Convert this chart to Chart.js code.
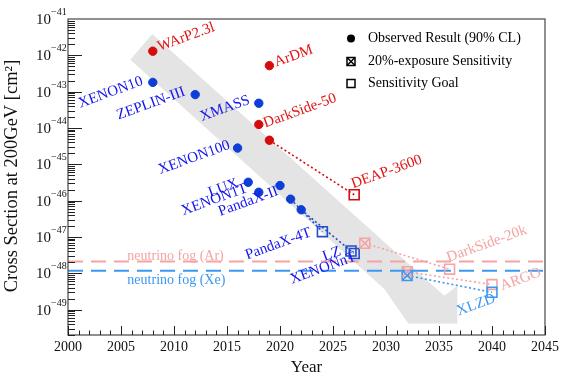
<!DOCTYPE html>
<html lang="en">
<head>
<meta charset="UTF-8">
<title>Cross Section vs Year</title>
<script src="https://cdn.jsdelivr.net/npm/chart.js@4.4.1/dist/chart.umd.min.js"></script>
<style>
  body { margin: 0; background: #fff; }
  #wrap { width: 565px; height: 383px; }
</style>
</head>
<body>
<div id="wrap"><canvas id="xsec" width="565" height="383"></canvas></div>
<script>
// observed results (90% CL)
const redObsYears = [2008, 2019, 2018, 2019];
const redObsValues = [1.3e-42, 5.2e-43, 1.25e-44, 4.6e-45];
const blueObsYears = [2008, 2012, 2018, 2016, 2017, 2018, 2020, 2021, 2022];
const blueObsValues = [1.8e-43, 8.3e-44, 4.8e-44, 2.8e-45, 3.2e-46, 1.7e-46, 2.6e-46, 1.1e-46, 5.6e-47];

// sensitivity goals
const goalNames = ['DEAP-3600', 'PandaX-4T', 'LZ', 'XENONnT', 'DarkSide-20k', 'ARGO', 'XLZD'];
const goalYears = [2027, 2024, 2026.7, 2027, 2036, 2040, 2040];
const goalValues = [1.45e-46, 1.4e-47, 4.1e-48, 3.5e-48, 1.3e-48, 4.9e-49, 3.0e-49];

// 20%-exposure sensitivity
const expNames = ['DarkSide-20k', 'ARGO', 'XLZD'];
const expYears = [2028, 2032, 2032];
const expValues = [6.7e-48, 1.1e-48, 8.7e-49];

// dotted projections (from -> to)
const projFromYears = [2019, 2021, 2022, 2028, 2032, 2032];
const projFromValues = [4.6e-45, 1.1e-46, 5.6e-47, 6.7e-48, 1.1e-48, 8.7e-49];
const projToYears = [2027, 2024, 2026.7, 2036, 2040, 2040];
const projToValues = [1.45e-46, 1.4e-47, 4.1e-48, 1.3e-48, 4.9e-49, 3.0e-49];

// neutrino fog levels
const fogAr = 2.1e-48;
const fogXe = 1.17e-48;

const yearTicks = [2000, 2005, 2010, 2015, 2020, 2025, 2030, 2035, 2040, 2045];
const decadeTicks = [-49, -48, -47, -46, -45, -44, -43, -42, -41];

// big gray arrow outline (year, log10 cross section)
const arrowYears = [2007.95, 2035.5, 2036.73, 2036.73, 2032.1, 2029.84, 2005.88];
const arrowLogs = [-41.41, -48.62, -48.34, -49.38, -49.38, -48.43, -42.12];

const RED = '#d40c0c', BLUE = '#0d3fd6', SQBLUE = '#1f4fd0', PINK = '#f5a3a3', LBLUE = '#3b98f2';
const TXTRED = '#e01515', TXTBLUE = '#1414ee';
const goalColors = [RED, SQBLUE, SQBLUE, SQBLUE, PINK, PINK, LBLUE];
const expColors = [PINK, PINK, LBLUE];
const projColors = [RED, SQBLUE, SQBLUE, PINK, PINK, LBLUE];

// labels: text, anchor year, anchor log10 value, colour, rotation
const labels = [
  ['WArP2.3l', 2008.63, -41.88, TXTRED, -20],
  ['XENON10', 2001.16, -43.44, TXTBLUE, -20],
  ['ZEPLIN-III', 2004.77, -43.77, TXTBLUE, -20],
  ['ArDM', 2019.65, -42.31, TXTRED, -20],
  ['XMASS', 2012.64, -43.81, TXTBLUE, -20],
  ['DarkSide-50', 2018.61, -43.99, TXTRED, -20],
  ['XENON100', 2008.71, -45.27, TXTBLUE, -20],
  ['LUX', 2013.42, -45.90, TXTBLUE, -20],
  ['XENON1T', 2010.88, -46.40, TXTBLUE, -20],
  ['PandaX-II', 2014.37, -46.42, TXTBLUE, -20],
  ['PandaX-4T', 2016.9, -47.62, TXTBLUE, -20],
  ['LZ', 2024.2, -47.66, TXTBLUE, -20],
  ['XENONnT', 2021.13, -48.29, TXTBLUE, -20],
  ['DEAP-3600', 2026.9, -45.66, TXTRED, -20],
  ['DarkSide-20k', 2035.9, -47.69, PINK, -20],
  ['ARGO', 2040.94, -48.47, PINK, -20],
  ['XLZD', 2036.85, -49.16, LBLUE, -20],
  ['neutrino fog (Ar)', 2005.6, -47.63, PINK, 0],
  ['neutrino fog (Xe)', 2005.6, -48.29, LBLUE, 0]
];

const pts = (xs, ys) => xs.map((v, i) => ({ x: v, y: ys[i] }));
const SERIF = '"Liberation Serif", "Times New Roman", serif';

const datasets = [
  { data: pts(redObsYears, redObsValues), pointStyle: 'circle', pointRadius: 4.2,
    pointBackgroundColor: RED, pointBorderColor: RED, showLine: false },
  { data: pts(blueObsYears, blueObsValues), pointStyle: 'circle', pointRadius: 4.2,
    pointBackgroundColor: BLUE, pointBorderColor: BLUE, showLine: false },
  { data: pts(expYears, expValues), pointStyle: 'crossRot', pointRadius: 7, pointBorderWidth: 1.5,
    pointBorderColor: expColors, showLine: false },
  { data: pts(expYears, expValues), pointStyle: 'rect', pointRadius: 7, pointBorderWidth: 1.5,
    pointBackgroundColor: 'rgba(0,0,0,0)', pointBorderColor: expColors, showLine: false },
  { data: pts(goalYears, goalValues), pointStyle: 'rect', pointRadius: 7, pointBorderWidth: 1.6,
    pointBackgroundColor: 'rgba(0,0,0,0)', pointBorderColor: goalColors, showLine: false }
];
projFromYears.forEach((yr, i) => {
  datasets.push({
    data: [{ x: yr, y: projFromValues[i] }, { x: projToYears[i], y: projToValues[i] }],
    showLine: true, pointRadius: 0, borderColor: projColors[i], borderWidth: 1.6, borderDash: [2, 2.5]
  });
});
datasets.push({ data: [{ x: 2000, y: fogAr }, { x: 2045, y: fogAr }], showLine: true, pointRadius: 0,
  borderColor: PINK, borderWidth: 2, borderDash: [15, 8] });
datasets.push({ data: [{ x: 2000, y: fogXe }, { x: 2045, y: fogXe }], showLine: true, pointRadius: 0,
  borderColor: LBLUE, borderWidth: 2, borderDash: [15, 8] });

const decor = {
  id: 'decor',
  beforeDatasetsDraw(chart) {
    const { ctx, chartArea: a, scales: { x, y } } = chart;
    ctx.save();
    ctx.beginPath(); ctx.rect(a.left, a.top, a.width, a.height); ctx.clip();
    ctx.fillStyle = '#e4e4e4';
    ctx.beginPath();
    arrowYears.forEach((yr, i) => {
      const px = x.getPixelForValue(yr), py = y.getPixelForValue(Math.pow(10, arrowLogs[i]));
      if (i) ctx.lineTo(px, py); else ctx.moveTo(px, py);
    });
    ctx.closePath(); ctx.fill();
    ctx.restore();
  },
  afterDatasetsDraw(chart) {
    const { ctx, chartArea: a, scales: { x, y } } = chart;
    ctx.save();

    // experiment labels
    ctx.textBaseline = 'alphabetic';
    ctx.textAlign = 'left';
    labels.forEach(([t, yr, lg, col, rot]) => {
      ctx.save();
      ctx.translate(x.getPixelForValue(yr), y.getPixelForValue(Math.pow(10, lg)));
      ctx.rotate(rot * Math.PI / 180);
      ctx.fillStyle = col;
      ctx.font = (rot ? '15px ' : '14px ') + SERIF;
      ctx.fillText(t, 0, 0);
      ctx.restore();
    });

    // frame
    ctx.strokeStyle = '#555';
    ctx.lineWidth = 1.3;
    ctx.strokeRect(a.left, a.top, a.width, a.height);

    // x ticks
    ctx.strokeStyle = '#222';
    ctx.lineWidth = 1;
    ctx.beginPath();
    for (let yr = 2000; yr <= 2045; yr++) {
      const px = Math.round(x.getPixelForValue(yr)) + 0.5;
      const len = yr % 5 === 0 ? 9 : 4.5;
      ctx.moveTo(px, a.bottom); ctx.lineTo(px, a.bottom - len);
    }
    // y ticks
    for (let d = -50; d <= -42; d++) {
      for (let m = 1; m <= 9; m++) {
        const v = m * Math.pow(10, d);
        if (v < y.min || v > y.max) continue;
        const py = Math.round(y.getPixelForValue(v)) + 0.5;
        const len = m === 1 ? 14 : 7;
        ctx.moveTo(a.left, py); ctx.lineTo(a.left + len, py);
      }
    }
    ctx.stroke();

    // x tick labels
    ctx.fillStyle = '#111';
    ctx.font = '14px ' + SERIF;
    ctx.textAlign = 'center';
    ctx.textBaseline = 'top';
    yearTicks.forEach(yr => ctx.fillText(String(yr), x.getPixelForValue(yr), a.bottom + 5));

    // y tick labels 10^n
    decadeTicks.forEach(d => {
      const py = y.getPixelForValue(Math.pow(10, d));
      ctx.textBaseline = 'alphabetic';
      ctx.textAlign = 'right';
      ctx.font = '15px ' + SERIF;
      ctx.fillText('10', a.left - 17, py + 5);
      ctx.textAlign = 'left';
      ctx.font = '10px ' + SERIF;
      ctx.fillText('\u2212' + Math.abs(d), a.left - 17, py - 4);
    });

    // axis titles
    ctx.font = '17px ' + SERIF;
    ctx.textAlign = 'center';
    ctx.textBaseline = 'middle';
    ctx.fillText('Year', (a.left + a.right) / 2, 368);
    ctx.save();
    ctx.translate(12, 176);
    ctx.rotate(-Math.PI / 2);
    ctx.font = '18.5px ' + SERIF;
    ctx.fillText('Cross Section at 200GeV [cm\u00b2]', 0, 0);
    ctx.restore();

    // legend
    const lx = a.right - 194, tx = a.right - 177;
    const rows = [a.top + 19.5, a.top + 42.5, a.top + 64.5];
    ctx.fillStyle = '#000';
    ctx.beginPath(); ctx.arc(lx, rows[0], 4, 0, Math.PI * 2); ctx.fill();
    ctx.strokeStyle = '#000';
    ctx.lineWidth = 1.5;
    ctx.strokeRect(lx - 4, rows[1] - 4, 8, 8);
    ctx.beginPath();
    ctx.moveTo(lx - 4, rows[1] - 4); ctx.lineTo(lx + 4, rows[1] + 4);
    ctx.moveTo(lx + 4, rows[1] - 4); ctx.lineTo(lx - 4, rows[1] + 4);
    ctx.stroke();
    ctx.strokeRect(lx - 4, rows[2] - 4, 8, 8);
    ctx.font = '14px ' + SERIF;
    ctx.textAlign = 'left';
    ctx.textBaseline = 'middle';
    ctx.fillText('Observed Result (90% CL)', tx, rows[0]);
    ctx.fillText('20%-exposure Sensitivity', tx, rows[1]);
    ctx.fillText('Sensitivity Goal', tx, rows[2]);

    ctx.restore();
  }
};

new Chart(document.getElementById('xsec'), {
  type: 'scatter',
  data: { datasets },
  options: {
    responsive: false,
    animation: false,
    layout: { padding: { left: 68, right: 20, top: 19, bottom: 48 } },
    plugins: { legend: { display: false }, tooltip: { enabled: false } },
    scales: {
      x: { type: 'linear', min: 2000, max: 2045, display: false },
      y: { type: 'logarithmic', min: 2.2e-50, max: 1e-41, display: false }
    }
  },
  plugins: [decor]
});
</script>
</body>
</html>
